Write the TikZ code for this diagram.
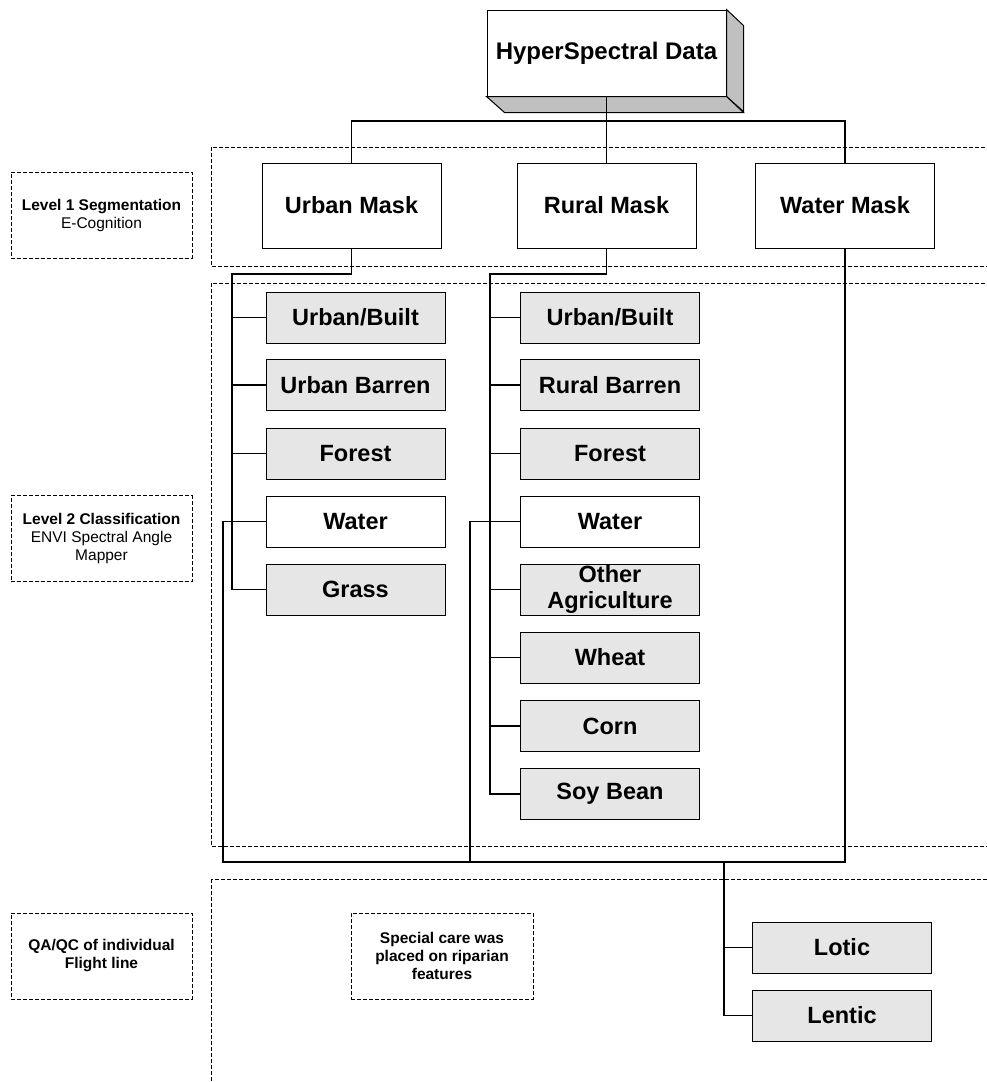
\documentclass[tikz,border=0pt]{standalone}
\usepackage{fontspec}
\setmainfont{Liberation Sans}
\definecolor{boxgray}{HTML}{E6E6E6}
\definecolor{sidegray}{HTML}{C0C0C0}
\begin{document}
\begin{tikzpicture}[x=1pt,y=-1pt,
  box/.style={draw=black, line width=1pt, fill=white, minimum width=179pt, minimum height=51pt, inner sep=0pt, font=\bfseries\fontsize{23.5}{26}\selectfont, align=center},
  gbox/.style={box, fill=boxgray},
  mask/.style={box, minimum height=85pt},
  region/.style={draw=black, dash pattern=on 4pt off 2pt, line width=1pt},
  lab/.style={region, minimum width=181pt, minimum height=86pt, inner sep=0pt, align=center, font=\fontsize{15.5}{18}\selectfont},
  conn/.style={draw=black, line width=1.5pt}]
\useasboundingbox (0,0) rectangle (986,1082);
% dashed regions
\draw[region] (211,147) rectangle (995,266);
\draw[region] (211,283) rectangle (995,846);
\draw[region] (211,879) rectangle (995,1095);
% labels
\node[lab] (l1) at (101.5,215) {\textbf{Level 1 Segmentation}\\E-Cognition};
\node[lab] (l2) at (101.5,538.5) {\textbf{Level 2 Classification}\\ENVI Spectral Angle\\Mapper};
\node[lab] (l3) at (101.5,956) {\textbf{QA/QC of individual}\\\textbf{Flight line}};
\node[lab, minimum width=182pt] (sc) at (442,956) {\textbf{Special care was}\\\textbf{placed on riparian}\\\textbf{features}};
% top box
\node[box, minimum width=239pt, minimum height=86pt, font=\bfseries\fontsize{24}{27}\selectfont] (hs) at (606.5,53) {HyperSpectral Data};
\filldraw[fill=sidegray, draw=black, line width=1pt] (hs.north east) -- ++(17,16) -- ++(0,86) -- (hs.south east) -- cycle;
\filldraw[fill=sidegray, draw=black, line width=1pt] (hs.south west) -- (hs.south east) -- ++(17,16) -- ++(-239,0) -- cycle;
% masks
\node[mask] (um) at (351.5,205.5) {Urban Mask};
\node[mask] (rm) at (606.5,205.5) {Rural Mask};
\node[mask] (wm) at (845,205.5) {Water Mask};
% urban column
\node[gbox] (uub) at (355.5,317.5) {Urban/Built};
\node[gbox] (uba) at (355.5,385) {Urban Barren};
\node[gbox] (ufo) at (355.5,453.5) {Forest};
\node[box]  (uwa) at (355.5,521.5) {Water};
\node[gbox] (ugr) at (355.5,589.5) {Grass};
% rural column
\node[gbox] (rub) at (610,317.5) {Urban/Built};
\node[gbox] (rba) at (610,385) {Rural Barren};
\node[gbox] (rfo) at (610,453.5) {Forest};
\node[box]  (rwa) at (610,521.5) {Water};
\node[gbox] (rag) at (610,589.5) {Other\\Agriculture};
\node[gbox] (rwh) at (610,657.5) {Wheat};
\node[gbox] (rco) at (610,726) {Corn};
\node[gbox] (rso) at (610,794) {Soy Bean};
% water classes
\node[gbox] (lotic) at (842,947.5) {Lotic};
\node[gbox] (lentic) at (842,1015.5) {Lentic};
% coordinates
\coordinate (j) at (606.5,121);
\coordinate (ub) at (232,274);
\coordinate (rb) at (490,274);
\coordinate (bl) at (223,862);
\coordinate (rbw) at (470,862);
\coordinate (lt) at (724,862);
% connectors
\draw[conn] (hs.south) -- (rm.north);
\draw[conn] (um.north) |- (j) -| (wm.north);
\draw[conn] (um.south) |- (ub) |- (ugr.west);
\foreach \n in {uub,uba,ufo} \draw[conn] (ub) |- (\n.west);
\draw[conn] (rm.south) |- (rb) |- (rso.west);
\foreach \n in {rub,rba,rfo,rag,rwh,rco} \draw[conn] (rb) |- (\n.west);
\draw[conn] (uwa.west) -| (bl) -| (wm.south);
\draw[conn] (rwa.west) -| (rbw);
\draw[conn] (lt) |- (lotic.west);
\draw[conn] (lt) |- (lentic.west);
\end{tikzpicture}
\end{document}
